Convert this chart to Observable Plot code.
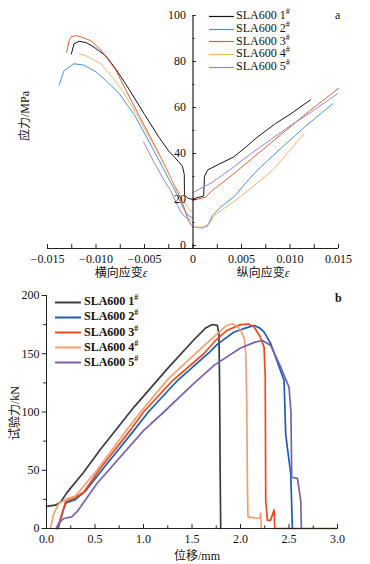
<!DOCTYPE html>
<html><head><meta charset="utf-8">
<script src="https://cdn.jsdelivr.net/npm/d3@7"></script>
<script src="https://cdn.jsdelivr.net/npm/@observablehq/plot@0.6"></script>
<style>
body{margin:0;background:#fff;}
#wrap{position:relative;width:370px;height:564px;background:#fff;font-family:"Liberation Serif","Noto Sans CJK SC",serif;color:#111;overflow:hidden}
.abs{position:absolute;white-space:nowrap}
.t{font-size:12px;line-height:12px}
</style></head>
<body>
<div id="wrap">
  <div id="ca" class="abs" style="left:0;top:0"></div>
  <div id="cb" class="abs" style="left:0;top:280px"></div>
</div>
<script>
// ---------- shared ----------
const seriesNames = ["SLA600 1", "SLA600 2", "SLA600 3", "SLA600 4", "SLA600 5"];
const colorsA = ["#151515", "#4a8fe0", "#e0603a", "#f5b56a", "#8f86cf"];
const colorsB = ["#3c3c3c", "#1c5db5", "#ee4a1e", "#f4a070", "#7b5fb0"];

// ---------- chart a: stress (MPa) vs strain ----------
const a1L = [[-0.01254,83.3],[-0.01227,87.7],[-0.01175,88.8],[-0.0110,88.2],[-0.0102,86.2],[-0.0090,82.5],[-0.0080,77],[-0.0066,68],[-0.0050,57],[-0.0035,47],[-0.0025,41],[-0.0020,38.8],[-0.0015,36.5],[-0.0011,34.5],[-0.0009,31],[-0.00088,22],[-0.0005,20.5],[0,20]];
const a1R = [[0,20.3],[0.0011,21.5],[0.00118,30],[0.0015,32.8],[0.0025,35],[0.0042,38.5],[0.0055,43],[0.0066,47],[0.0085,53],[0.0101,57.3],[0.0121,63.3]];
const a2L = [[-0.0138,69.7],[-0.0133,76],[-0.0123,79],[-0.0113,78.5],[-0.0100,75.5],[-0.0088,71],[-0.0076,66],[-0.006,56.5],[-0.0045,45],[-0.003,33],[-0.002,25],[-0.0012,18],[-0.0007,14],[-0.0003,12.5],[0,12]];
const a2R = [[0,8],[0.001,7.6],[0.0015,8.5],[0.002,13],[0.0028,16.5],[0.0043,21.5],[0.0055,27.5],[0.0066,32.6],[0.009,42],[0.0115,51.5],[0.0144,61.6]];
const a3L = [[-0.01302,84],[-0.0128,88.5],[-0.01261,90.6],[-0.01209,91.3],[-0.0115,90.6],[-0.01055,89.1],[-0.0095,85],[-0.0080,76.5],[-0.0069,67.4],[-0.0055,56],[-0.004,44],[-0.0028,34],[-0.0018,25],[-0.0012,20],[-0.0008,15],[-0.0005,11],[-0.0002,9],[0,8.5]];
const a3R = [[0,19.6],[0.0013,21],[0.002,24],[0.004,30.5],[0.006,37.5],[0.008,44.5],[0.010,51.5],[0.012,58.5],[0.015,68.3]];
const a4L = [[-0.01175,83.3],[-0.01106,82.6],[-0.0095,79],[-0.0082,72.5],[-0.0073,67.4],[-0.006,58.5],[-0.0045,47],[-0.0032,37],[-0.002,27],[-0.0012,21],[-0.0006,17],[-0.0002,15],[0,14.5]];
const a4R = [[0,8],[0.001,8],[0.0017,9.5],[0.0022,13],[0.003,15.5],[0.0045,20],[0.006,25],[0.0082,32.6],[0.01145,48.6]];
const a5L = [[-0.0051,45],[-0.004,36],[-0.003,28.5],[-0.0023,23.9],[-0.0016,17.5],[-0.0011,13.5],[-0.0006,11.8],[-0.0002,11]];
const a5R = [[0,23],[0.002,27.5],[0.004,33.5],[0.006,40],[0.008,46],[0.010,52],[0.012,57.5],[0.0149,66]];
const aCurves = [[a1L,a1R],[a2L,a2R],[a3L,a3R],[a4L,a4R],[a5L,a5R]];
const aXTicks = [-0.015,-0.0125,-0.01,-0.0075,-0.005,-0.0025,0,0.0025,0.005,0.0075,0.01,0.0125,0.015];
const aXLabelVals = [-0.015,-0.01,-0.005,0,0.005,0.01,0.015];
const aXLabels = ["\u22120.015","\u22120.010","\u22120.005","0","0.005","0.010","0.015"];
const aYMajor = [0,20,40,60,80,100];
const aYMinor = [10,30,50,70,90];

// ---------- chart b: force (kN) vs displacement (mm) ----------
const b1 = [[0,19],[0.09,20],[0.144,22.5],[0.213,31],[0.385,48.5],[0.557,68],[0.729,86],[0.9,104],[1.245,137],[1.52,162],[1.64,172],[1.71,175.1],[1.761,174.3],[1.778,167],[1.785,120],[1.79,50],[1.796,0]];
const b2 = [[0.12,0],[0.17,15],[0.2,22],[0.3,25],[0.4,32],[0.57,50],[0.9,84],[1.05,100],[1.35,127],[1.69,152],[1.76,158],[1.93,168.5],[2.05,172],[2.14,174.3],[2.2,172],[2.243,168.5],[2.312,158.6],[2.38,143],[2.449,127],[2.466,81],[2.49,65],[2.518,47],[2.535,0]];
const b3 = [[0.11,0],[0.162,13],[0.196,23],[0.28,25.7],[0.385,31.4],[0.54,50],[0.86,84],[1.0,100],[1.3,127],[1.62,150],[1.75,162],[1.86,170],[2.0,175],[2.08,175.5],[2.14,173],[2.2,165],[2.243,155.7],[2.255,130],[2.26,24],[2.277,7],[2.31,7],[2.346,16],[2.353,0],[3.0,0]];
const b4 = [[0.04,0],[0.076,13],[0.127,21.4],[0.2,25],[0.3,28],[0.4,38],[0.52,50],[0.82,84],[0.97,100],[1.25,128],[1.56,152],[1.76,167],[1.85,174],[1.916,175.7],[1.96,174],[2.0,170],[2.04,163],[2.054,150],[2.064,110],[2.071,40],[2.077,10],[2.19,8.6],[2.2,9.5],[2.208,13],[2.215,0]];
const b5 = [[0.1,0],[0.13,5],[0.18,8.6],[0.26,10],[0.32,15],[0.35,18.5],[0.52,38.6],[1.0,84],[1.21,100],[1.5,123],[1.727,140],[2.0,155],[2.15,160],[2.226,161.4],[2.312,157],[2.415,138.5],[2.5,121.4],[2.52,100],[2.528,44],[2.587,43],[2.621,24],[2.628,0]];
const bCurves = [b1,b2,b3,b4,b5];
const bXMajor = [0,0.5,1,1.5,2,2.5,3];
const bXMinor = [0.25,0.75,1.25,1.75,2.25,2.75];
const bYMajor = [0,50,100,150,200];
const bYMinor = [25,75,125,175];

const font = "Liberation Serif";

// ---------- draw chart a ----------
const aMarks = [];
aCurves.forEach((pair, i) => {
  pair.forEach(seg => aMarks.push(Plot.line(seg, {x: d => d[0], y: d => d[1], stroke: colorsA[i], strokeWidth: 1})));
});
aMarks.push(
  Plot.ruleY([0], {x1: -0.015, x2: 0.015, dy: 3, stroke: "#222", strokeWidth: 1}),
  Plot.ruleX(aXTicks, {x: d => d, y1: 0, y2: 1.7, dy: 3, stroke: "#222", strokeWidth: 1}),
  Plot.text(aXLabelVals, {x: d => d, y: 0, dy: 14, text: (d, i) => aXLabels[i], fontSize: 12, fontFamily: font, fill: "#111"}),
  Plot.ruleX([0], {y1: -1.3, y2: 100, stroke: "#222", strokeWidth: 1.2}),
  Plot.ruleY(aYMajor, {x1: 0, x2: 0.00035, stroke: "#222"}),
  Plot.ruleY(aYMinor, {x1: 0, x2: 0.0002, stroke: "#222"}),
  Plot.text(aYMajor, {x: 0, y: d => d, dx: -7, text: d => String(d), textAnchor: "end", fontSize: 12, fontFamily: font, fill: "#111"})
);
const chartA = Plot.plot({
  width: 370, height: 280,
  marginLeft: 47, marginRight: 32, marginTop: 15, marginBottom: 35,
  x: {domain: [-0.015, 0.015], axis: null},
  y: {domain: [0, 100], axis: null},
  style: {background: "transparent", overflow: "visible"},
  marks: aMarks
});
document.getElementById("ca").appendChild(chartA);

// ---------- draw chart b ----------
const bMarks = [];
bCurves.forEach((c, i) => bMarks.push(Plot.line(c, {x: d => d[0], y: d => d[1], stroke: colorsB[i], strokeWidth: 1.7})));
bMarks.push(
  Plot.ruleY([0], {x1: 0, x2: 3, stroke: "#222", strokeWidth: 1}),
  Plot.ruleX([0], {y1: 0, y2: 200, stroke: "#222", strokeWidth: 1}),
  Plot.ruleX(bXMajor, {x: d => d, y1: 0, y2: 3.5, stroke: "#222"}),
  Plot.ruleX(bXMinor, {x: d => d, y1: 0, y2: 2.2, stroke: "#222"}),
  Plot.text(bXMajor, {x: d => d, y: 0, dy: 11, text: d => d3.format(".1f")(d), fontSize: 12, fontFamily: font, fill: "#111"}),
  Plot.ruleY(bYMajor, {x1: 0, x2: -0.045, stroke: "#222"}),
  Plot.ruleY(bYMinor, {x1: 0, x2: -0.028, stroke: "#222"}),
  Plot.text(bYMajor, {x: 0, y: d => d, dx: -7, text: d => String(d), textAnchor: "end", fontSize: 12, fontFamily: font, fill: "#111"})
);
const chartB = Plot.plot({
  width: 370, height: 284,
  marginLeft: 46, marginRight: 33, marginTop: 15, marginBottom: 36,
  x: {domain: [0, 3], axis: null},
  y: {domain: [0, 200], axis: null},
  style: {background: "transparent", overflow: "visible"},
  marks: bMarks
});
document.getElementById("cb").appendChild(chartB);

// ---------- html text overlays ----------
const wrap = document.getElementById("wrap");
function addDiv(html, style) {
  const d = document.createElement("div");
  d.className = "abs t";
  d.innerHTML = html;
  d.setAttribute("style", style);
  wrap.appendChild(d);
  return d;
}
// legend a
seriesNames.forEach((n, i) => {
  const y = 12 + i * 12.8;
  addDiv(`<svg width="25" height="3" style="vertical-align:middle;margin-right:2px"><line x1="0" y1="1.5" x2="25" y2="1.5" stroke="${colorsA[i]}" stroke-width="1.2"/></svg><span>${n}<sup style="font-size:8px">#</sup></span>`,
    `left:209px;top:${y - 6}px;font-size:12px;line-height:12px`);
});
// legend b
seriesNames.forEach((n, i) => {
  const y = 298.3 + i * 15.1;
  addDiv(`<svg width="26" height="3" style="vertical-align:middle;margin-right:3px"><line x1="0" y1="1.5" x2="26" y2="1.5" stroke="${colorsB[i]}" stroke-width="2"/></svg><span style="font-weight:bold">${n}<sup style="font-size:8px">#</sup></span>`,
    `left:55px;top:${y - 6}px;font-size:12px;line-height:12px`);
});
// panel letters
addDiv("a", "left:335px;top:9px;font-size:12px");
addDiv("<b>b</b>", "left:335px;top:292px;font-size:12px");
// axis titles a
addDiv("横向应变<i>ε</i>", "left:121px;top:273px;transform:translate(-50%,-50%);font-size:12px");
addDiv("纵向应变<i>ε</i>", "left:263px;top:273px;transform:translate(-50%,-50%);font-size:12px");
addDiv("应力/MPa", "left:25px;top:116px;transform:translate(-50%,-50%) rotate(-90deg);font-size:12px");
// axis titles b
addDiv("位移/mm", "left:197px;top:556px;transform:translate(-50%,-50%);font-size:12px");
addDiv("试验力/kN", "left:15px;top:413px;transform:translate(-50%,-50%) rotate(-90deg);font-size:12px");
</script>
</body></html>
